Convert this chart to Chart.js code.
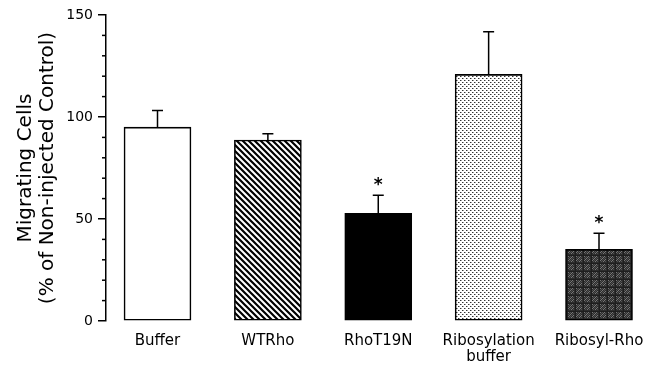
<!DOCTYPE html>
<html>
<head>
<meta charset="utf-8">
<script src="https://cdn.jsdelivr.net/npm/chart.js@4.4.1/dist/chart.umd.min.js"></script>
<style>
html,body{margin:0;padding:0;background:#fff;}
#wrap{width:646px;height:366px;}
</style>
</head>
<body>
<div id="wrap"><canvas id="c" width="646" height="366"></canvas></div>
<script>
// ---- data ----
const categories = ['Buffer', 'WTRho', 'RhoT19N', ['Ribosylation', 'buffer'], 'Ribosyl-Rho'];
const positions = [0, 1, 2, 3, 4];
const migrating = [95, 88.7, 52.8, 120.9, 35.1];
const errorUp = [8.2, 3.1, 8.8, 20.9, 7.9];
const significant = [false, false, true, false, true];
const yTicks = [0, 50, 100, 150];
const yMinorStep = 10;

// ---- patterns ----
function makeTile(w, h, draw) {
  const c = document.createElement('canvas');
  c.width = w; c.height = h;
  const g = c.getContext('2d');
  draw(g, w, h);
  return document.getElementById('c').getContext('2d').createPattern(c, 'repeat');
}
const whiteFill = '#ffffff';
const stripeFill = makeTile(6, 6, (g, w, h) => {
  g.fillStyle = '#fff'; g.fillRect(0, 0, w, h);
  g.strokeStyle = '#000'; g.lineWidth = 2.2;
  g.beginPath();
  g.moveTo(-1, -1); g.lineTo(w + 1, h + 1);
  g.moveTo(-1 - w, -1); g.lineTo(w + 1 - w, h + 1);
  g.moveTo(-1 + w, -1); g.lineTo(w + 1 + w, h + 1);
  g.stroke();
});
const blackFill = '#000000';
const dotFill = makeTile(4, 4, (g, w, h) => {
  g.fillStyle = '#fff'; g.fillRect(0, 0, w, h);
  g.fillStyle = '#333';
  g.fillRect(0, 0, 1, 1);
  g.fillRect(2, 2, 1, 1);
  g.fillStyle = '#a0a0a0';
  g.fillRect(1, 0, 1, 1);
  g.fillRect(3, 2, 1, 1);
});
const checkFill = makeTile(8, 8, (g, w, h) => {
  g.fillStyle = '#2c2c2c'; g.fillRect(0, 0, w, h);
  for (let y = 0; y < h; y++) {
    for (let x = 0; x < w; x++) {
      if (x < 6 && y < 6 && (x + y) % 2 === 0) {
        g.fillStyle = (x + y) % 4 === 0 ? '#777' : '#505050';
        g.fillRect(x, y, 1, 1);
      }
    }
  }
  g.fillStyle = '#1e1e1e';
  g.fillRect(7, 0, 1, 8);
  g.fillRect(0, 7, 8, 1);
});
const fills = [whiteFill, stripeFill, blackFill, dotFill, checkFill];

const FONT = 'DejaVu Sans';

// ---- plugins ----
const extras = {
  id: 'extras',
  afterDatasetsDraw(chart) {
    const ctx = chart.ctx;
    const xs = chart.scales.x, ys = chart.scales.y;
    ctx.save();
    ctx.strokeStyle = '#000';
    ctx.lineWidth = 1.5;
    ctx.fillStyle = '#000';
    positions.forEach((p, i) => {
      const px = xs.getPixelForValue(p);
      const top = ys.getPixelForValue(migrating[i]);
      const cap = ys.getPixelForValue(migrating[i] + errorUp[i]);
      ctx.beginPath();
      ctx.moveTo(px, top);
      ctx.lineTo(px, cap);
      ctx.moveTo(px - 5.5, cap);
      ctx.lineTo(px + 5.5, cap);
      ctx.stroke();
      if (significant[i]) {
        ctx.font = 'bold 17px "' + FONT + '"';
        ctx.textAlign = 'center';
        ctx.textBaseline = 'middle';
        ctx.fillText('*', px, cap - 10);
      }
    });
    ctx.restore();
  },
  afterDraw(chart) {
    const ctx = chart.ctx;
    const ys = chart.scales.y;
    const left = chart.chartArea.left;
    ctx.save();
    ctx.strokeStyle = '#000';
    ctx.lineWidth = 1.5;
    for (let v = ys.min; v <= ys.max; v += yMinorStep) {
      if (yTicks.includes(v)) continue;
      const py = ys.getPixelForValue(v);
      ctx.beginPath();
      ctx.moveTo(left - 4, py);
      ctx.lineTo(left, py);
      ctx.stroke();
    }
    ctx.restore();
  }
};

new Chart(document.getElementById('c'), {
  type: 'bar',
  data: {
    datasets: [{
      data: positions.map((p, i) => ({ x: p, y: migrating[i] })),
      backgroundColor: fills,
      borderColor: '#000',
      borderWidth: 1.6,
      borderSkipped: false,
      barThickness: 67
    }]
  },
  options: {
    responsive: false,
    animation: false,
    devicePixelRatio: 1,
    layout: { padding: { left: 0, right: 6, top: 15, bottom: 0 } },
    plugins: { legend: { display: false }, tooltip: { enabled: false } },
    scales: {
      x: {
        type: 'linear',
        offset: false,
        min: -0.4666,
        max: 4.3714,
        grid: { display: false, drawTicks: false, tickLength: 0 },
        border: { display: false },
        afterBuildTicks(scale) { scale.ticks = positions.map(v => ({ value: v })); },
        afterFit(scale) { scale.height = 45; scale.paddingLeft = 0; scale.paddingRight = 0; },
        ticks: {
          autoSkip: false,
          maxRotation: 0,
          padding: 12,
          color: '#000',
          font: { family: FONT, size: 15, lineHeight: 1.07 },
          callback: (v) => categories[v]
        }
      },
      y: {
        min: 0,
        max: 150,
        afterBuildTicks(scale) { scale.ticks = yTicks.map(v => ({ value: v })); },
        afterFit(scale) { scale.width = 106; scale.paddingTop = 0; scale.paddingBottom = 0; },
        grid: { display: true, drawOnChartArea: false, drawTicks: true, tickLength: 8, color: '#000', lineWidth: 1.5 },
        border: { display: true, color: '#000', width: 1.5 },
        ticks: {
          padding: 5,
          color: '#000',
          font: { family: FONT, size: 14 }
        },
        title: {
          display: true,
          text: ['Migrating Cells', '(% of Non-injected Control)'],
          color: '#000',
          font: { family: FONT, size: 20, lineHeight: 1.1 },
          padding: { top: 15, bottom: 3 }
        }
      }
    }
  },
  plugins: [extras]
});
</script>
</body>
</html>
